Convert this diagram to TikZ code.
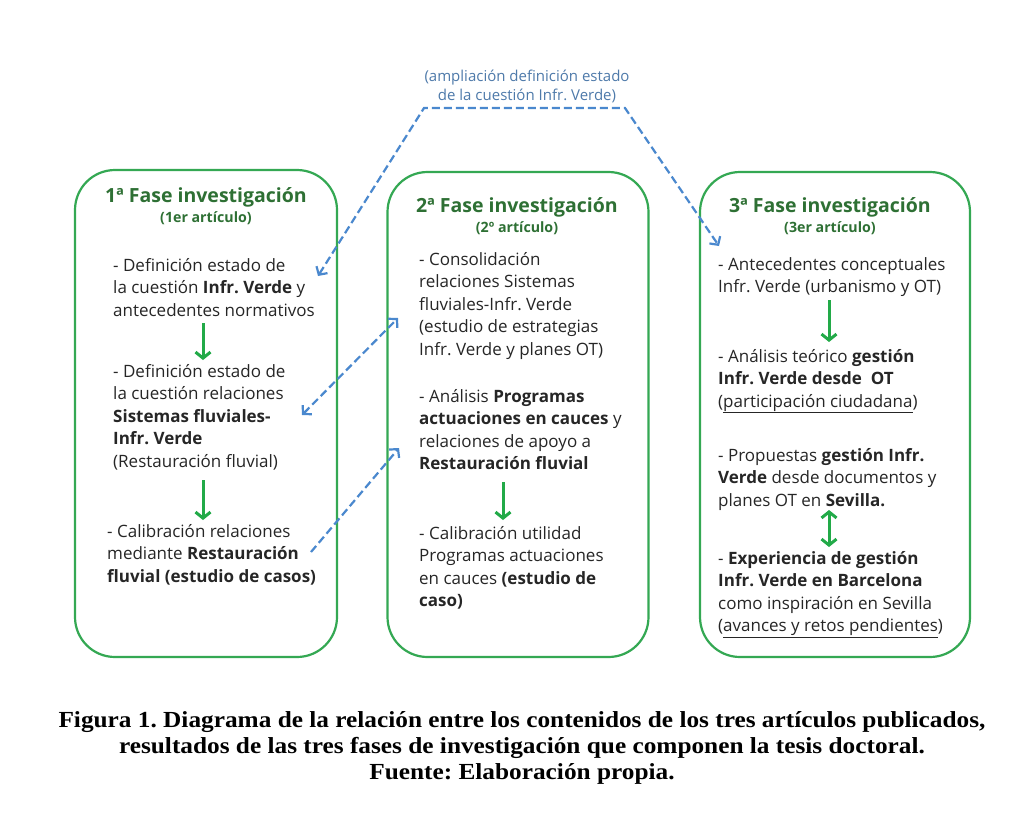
\documentclass[tikz,border=0pt]{standalone}
\usepackage{fontspec}
\setmainfont{Open Sans}
\newfontfamily\capfont[FakeStretch=1.1]{Liberation Serif}
\usetikzlibrary{arrows.meta}
\definecolor{boxgreen}{RGB}{52,168,83}
\definecolor{titlegreen}{RGB}{46,112,52}
\definecolor{arrowgreen}{RGB}{34,170,72}
\definecolor{linkblue}{RGB}{74,136,206}
\definecolor{notegrey}{RGB}{78,122,170}
\tikzset{
	phasebox/.style={draw=boxgreen, line width=2.2pt, rounded corners=40pt, inner sep=0pt},
	phasetitle/.style={text=titlegreen, font=\fontsize{19.5}{22}\selectfont\bfseries, inner sep=0pt},
	phasesub/.style={text=titlegreen, font=\fontsize{14.2}{16}\selectfont\bfseries, inner sep=0pt},
	itemtext/.style={anchor=base west, align=left, inner sep=0pt, text=black!85, font=\fontsize{17}{22.5}\selectfont},
	stepdown/.style={draw=arrowgreen, line width=3pt, -{Straight Barb[length=6pt,width=15pt]}},
	stepboth/.style={draw=arrowgreen, line width=3pt, {Straight Barb[length=6pt,width=15pt]}-{Straight Barb[length=6pt,width=15pt]}},
	link/.style={draw=linkblue, line width=2.2pt, dash pattern=on 8pt off 4pt, -{Straight Barb[length=6pt,width=13pt]}},
}
\frenchspacing
\begin{document}
\begin{tikzpicture}[x=1pt,y=-1pt]
	%%%%% START %%%%%
	\useasboundingbox[fill=white] (0,0) rectangle (1030,822);
	
	% the three phases
	\node[phasebox, minimum width=262pt, minimum height=487pt] (fase1) at (206,413.5) {};
	\node[phasebox, minimum width=261pt, minimum height=485pt] (fase2) at (518,414.5) {};
	\node[phasebox, minimum width=270pt, minimum height=485pt] (fase3) at (835,414.5) {};
	
	\node[phasetitle] (t1) at (206,197) {1ª Fase investigación};
	\node[phasesub] (s1) at (206,218) {(1er artículo)};
	\node[phasetitle] (t2) at (517,207) {2ª Fase investigación};
	\node[phasesub] (s2) at (517,228) {(2º artículo)};
	\node[phasetitle] (t3) at (830,207) {3ª Fase investigación};
	\node[phasesub] (s3) at (830,228) {(3er artículo)};
	
	% phase 1 (base = last line)
	\node[itemtext] (a1) at (113,316) {- Definición estado de\\la cuestión \textbf{Infr. Verde} y\\antecedentes normativos};
	\node[itemtext] (a2) at (113,467) {- Definición estado de\\la cuestión relaciones\\\textbf{Sistemas fluviales-}\\\textbf{Infr. Verde}\\(Restauración fluvial)};
	\node[itemtext] (a3) at (107,582) {- Calibración relaciones\\mediante \textbf{Restauración}\\\textbf{fluvial (estudio de casos)}};
	
	% phase 2
	\node[itemtext] (b1) at (419,355) {- Consolidación\\relaciones Sistemas\\fluviales-Infr. Verde\\(estudio de estrategias\\Infr. Verde y planes OT)};
	\node[itemtext] (b2) at (419,469.5) {- Análisis \textbf{Programas}\\\textbf{actuaciones en cauces} y\\relaciones de apoyo a\\\textbf{Restauración fluvial}};
	\node[itemtext] (b3) at (419,606.5) {- Calibración utilidad\\Programas actuaciones\\en cauces \textbf{(estudio de}\\\textbf{caso)}};
	
	% phase 3
	\node[itemtext] (c1) at (718,292.5) {- Antecedentes conceptuales\\Infr. Verde (urbanismo y OT)};
	\node[itemtext] (c2) at (718,407) {- Análisis teórico \textbf{gestión}\\\textbf{Infr. Verde desde\ \ OT}\\(\underline{participación ciudadana})};
	\node[itemtext] (c3) at (718,506) {- Propuestas \textbf{gestión Infr.}\\\textbf{Verde} desde documentos y\\planes OT en \textbf{Sevilla.}};
	\node[itemtext] (c4) at (718,631.5) {- \textbf{Experiencia de gestión}\\\textbf{Infr. Verde en Barcelona}\\como inspiración en Sevilla\\(\underline{avances y retos pendientes})};
	
	% green steps
	\draw[stepdown] (203,323) -- (203,360);
	\draw[stepdown] (203,480) -- (203,520);
	\draw[stepdown] (503,482) -- (503,520);
	\draw[stepdown] (829,300) -- (829,342);
	\draw[stepboth] (829,510) -- (829,547);
	
	% blue links
	\node[text=notegrey, align=center, inner sep=0pt, font=\fontsize{15}{19}\selectfont] (note) at (527,86) {(ampliación definición estado\\de la cuestión Infr. Verde)};
	\coordinate (n1) at (318,276);
	\coordinate (k1) at (424,108);
	\coordinate (k2) at (625,108);
	\coordinate (n3) at (719,246);
	\draw[link, {Straight Barb[length=6pt,width=13pt]}-{Straight Barb[length=6pt,width=13pt]}] (n1) -- (k1) -- (k2) -- (n3);
	
	\coordinate (m1) at (302,415);
	\coordinate (m2) at (398,318);
	\draw[link, {Straight Barb[length=6pt,width=13pt]}-{Straight Barb[length=6pt,width=13pt]}] (m1) -- (m2);
	
	\coordinate (r1) at (311,552);
	\coordinate (r2) at (399,448);
	\draw[link] (r1) -- (r2);
	
	% caption
	\node[align=center, inner sep=0pt, font=\capfont\fontsize{23}{26}\selectfont\bfseries] (caption) at (522,748) {Figura 1. Diagrama de la relación entre los contenidos de los tres artículos publicados,\\resultados de las tres fases de investigación que componen la tesis doctoral.\\Fuente: Elaboración propia.};
	
	%%%%% END %%%%%
\end{tikzpicture}
\end{document}
